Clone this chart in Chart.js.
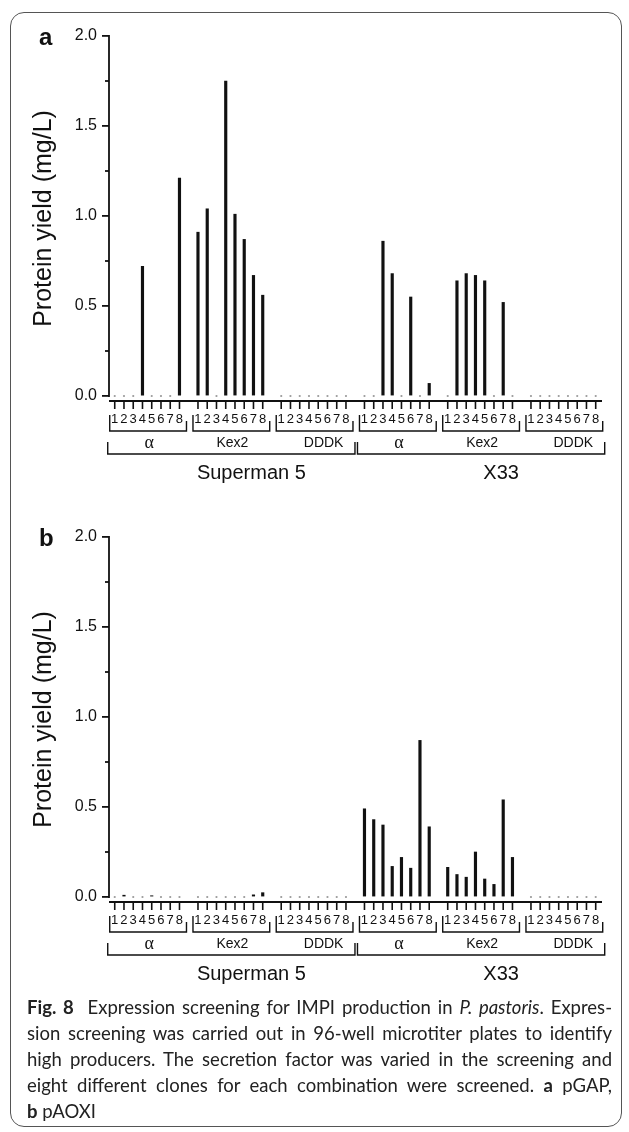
<!DOCTYPE html>
<html>
<head>
<meta charset="utf-8">
<script src="https://cdn.jsdelivr.net/npm/chart.js@4.4.1/dist/chart.umd.min.js"></script>
<style>
    html, body { margin: 0; padding: 0; background: #fff; }
    #page { position: relative; width: 629px; height: 1132px; overflow: hidden; }
    #frame { position: absolute; left: 10px; top: 12px; width: 612px; height: 1115px; border: 1px solid #555; border-radius: 14px; box-sizing: border-box; }
    canvas { position: absolute; left: 0; }
    #panelA { top: 0; }
    #panelB { top: 501px; }
    .caption { position: absolute; left: 27px; top: 994px; width: 585px; font-family: Lato, 'Open Sans', sans-serif; font-size: 18.5px; color: #222; }
    .caption div { height: 26px; line-height: 26px; white-space: nowrap; text-align: justify; text-align-last: justify; }
    .caption div.last { text-align-last: left; }
</style>
</head>
<body>
<div id="page">
    <div id="frame"></div>
    <canvas id="panelA" width="629" height="501"></canvas>
    <canvas id="panelB" width="629" height="501"></canvas>
    <div class="caption">
        <div><b>Fig. 8</b>&nbsp; Expression screening for IMPI production in <i>P. pastoris</i>. Expres-</div>
        <div>sion screening was carried out in 96-well microtiter plates to identify</div>
        <div>high producers. The secretion factor was varied in the screening and</div>
        <div>eight different clones for each combination were screened. <b>a</b> pGAP,</div>
        <div class="last"><b>b</b> pAOXI</div>
    </div>
</div>
<script>
const clones = ['1', '2', '3', '4', '5', '6', '7', '8'];
const factors = ['α', 'Kex2', 'DDDK'];
const strains = ['Superman 5', 'X33'];
const yTicks = [0, 0.5, 1, 1.5, 2];
const yMinorTicks = [0.25, 0.75, 1.25, 1.75];

// protein yield (mg/L), clones 1-8 for α, then Kex2, then DDDK
const pgapSuperman5 = [0, 0, 0, 0.72, 0, 0, 0, 1.21,
                       0.91, 1.04, 0, 1.75, 1.01, 0.87, 0.67, 0.56,
                       0, 0, 0, 0, 0, 0, 0, 0];
const pgapX33 = [0, 0, 0.86, 0.68, 0, 0.55, 0, 0.07,
                 0, 0.64, 0.68, 0.67, 0.64, 0, 0.52, 0,
                 0, 0, 0, 0, 0, 0, 0, 0];
const paoxSuperman5 = [0, 0.01, 0, 0, 0.007, 0, 0, 0,
                       0, 0, 0, 0, 0, 0, 0.012, 0.024,
                       0, 0, 0, 0, 0, 0, 0, 0];
const paoxX33 = [0.49, 0.43, 0.40, 0.17, 0.22, 0.16, 0.87, 0.39,
                 0.165, 0.125, 0.11, 0.25, 0.10, 0.07, 0.54, 0.22,
                 0, 0, 0, 0, 0, 0, 0, 0];

const FONT = "'Liberation Sans', Arial, sans-serif";
const INK = '#111';

// slot on the x axis: 8 clones + 1 empty slot per factor
function slotOf(s, f, c) {
    return s * 27 + f * 9 + c;
}

function toPoints(series) {
    const bars = [];
    const zeros = [];
    series.forEach((values, s) => {
        values.forEach((v, i) => {
            const x = slotOf(s, Math.floor(i / 8), i % 8);
            if (v > 0) bars.push({x: x, y: v});
            else zeros.push({x: x, y: 0});
        });
    });
    return {bars, zeros};
}

function strokeLine(ctx, x1, y1, x2, y2) {
    ctx.beginPath();
    ctx.moveTo(x1, y1);
    ctx.lineTo(x2, y2);
    ctx.stroke();
}

const axisDecor = {
    id: 'axisDecor',
    afterDraw(chart, args, opts) {
        const {ctx, chartArea, scales: {x, y}} = chart;
        const base = chartArea.bottom;
        ctx.save();
        ctx.strokeStyle = INK;
        ctx.fillStyle = INK;
        ctx.lineWidth = 1.8;

        // y axis stops at 0, x axis sits a little lower
        strokeLine(ctx, chartArea.left, y.getPixelForValue(0) + 0.9, chartArea.left, y.getPixelForValue(2) - 0.9);
        yMinorTicks.forEach(v => {
            const py = y.getPixelForValue(v);
            strokeLine(ctx, chartArea.left - 4, py, chartArea.left, py);
        });
        strokeLine(ctx, chartArea.left, base, chartArea.right, base);

        ctx.textAlign = 'center';
        ctx.textBaseline = 'middle';
        strains.forEach((strain, s) => {
            factors.forEach((factor, f) => {
                const first = x.getPixelForValue(slotOf(s, f, 0));
                const last = x.getPixelForValue(slotOf(s, f, 7));
                ctx.lineWidth = 1.6;
                clones.forEach((c, i) => {
                    const px = x.getPixelForValue(slotOf(s, f, i));
                    strokeLine(ctx, px, base, px, base + 8);
                    ctx.font = '13px ' + FONT;
                    ctx.fillText(c, px, base + 18);
                });
                ctx.lineWidth = 1.4;
                ctx.beginPath();
                ctx.moveTo(first - 5, base + 14);
                ctx.lineTo(first - 5, base + 30);
                ctx.lineTo(last + 7, base + 30);
                ctx.lineTo(last + 7, base + 20);
                ctx.stroke();
                if (factor === 'α') ctx.font = "18px 'Liberation Serif', 'DejaVu Serif', serif";
                else ctx.font = '14px ' + FONT;
                const shift = factor === 'DDDK' ? 10 : 2;
                ctx.fillText(factor, (first + last) / 2 + shift, base + 42);
            });
            const left = x.getPixelForValue(slotOf(s, 0, 0)) - 7;
            const right = x.getPixelForValue(slotOf(s, 2, 7)) + 9;
            ctx.lineWidth = 1.4;
            ctx.beginPath();
            ctx.moveTo(left, base + 41);
            ctx.lineTo(left, base + 53);
            ctx.lineTo(right, base + 53);
            ctx.lineTo(right, base + 41);
            ctx.stroke();
            ctx.font = '20px ' + FONT;
            ctx.fillText(strain, (left + right) / 2 + 20, base + 72);
        });

        ctx.textAlign = 'left';
        ctx.textBaseline = 'alphabetic';
        ctx.font = 'bold 24px ' + FONT;
        ctx.fillText(opts.letter, 39, 45);
        ctx.restore();
    }
};

function makePanel(canvasId, letter, series) {
    const pts = toPoints(series);
    return new Chart(document.getElementById(canvasId), {
        type: 'bar',
        data: {
            datasets: [
                {
                    type: 'bar',
                    data: pts.bars,
                    backgroundColor: INK,
                    borderWidth: 0,
                    barThickness: 2.5
                },
                {
                    type: 'scatter',
                    data: pts.zeros,
                    pointRadius: 1.1,
                    pointBackgroundColor: '#9a9a9a',
                    pointBorderWidth: 0,
                    showLine: false
                }
            ]
        },
        options: {
            responsive: false,
            animation: false,
            layout: {
                padding: {left: 0, right: 27, top: 36, bottom: 100}
            },
            scales: {
                x: {
                    type: 'linear',
                    min: -0.62,
                    max: 52.68,
                    offset: false,
                    grace: 0,
                    display: false
                },
                y: {
                    min: -5 / 180,
                    max: 2,
                    afterBuildTicks: (scale) => {
                        scale.ticks = yTicks.map(v => ({value: v}));
                    },
                    afterFit: (scale) => {
                        scale.width = 109;
                    },
                    border: {display: false},
                    grid: {
                        drawOnChartArea: false,
                        drawTicks: true,
                        tickLength: 7,
                        color: INK,
                        lineWidth: 1.8
                    },
                    ticks: {
                        padding: 5,
                        color: INK,
                        font: {family: FONT, size: 16},
                        callback: (v) => Number(v).toFixed(1)
                    },
                    title: {
                        display: true,
                        text: 'Protein yield (mg/L)',
                        color: INK,
                        font: {family: FONT, size: 25},
                        padding: {top: 29, bottom: 0}
                    }
                }
            },
            plugins: {
                legend: {display: false},
                tooltip: {enabled: false},
                axisDecor: {letter: letter}
            }
        },
        plugins: [axisDecor]
    });
}

makePanel('panelA', 'a', [pgapSuperman5, pgapX33]);
makePanel('panelB', 'b', [paoxSuperman5, paoxX33]);
</script>
</body>
</html>
